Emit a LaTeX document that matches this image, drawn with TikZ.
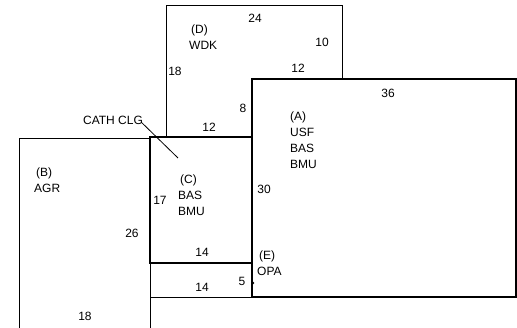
\documentclass[tikz,border=0pt]{standalone}
\usepackage{fontspec}
\setmainfont{Liberation Sans}
\begin{document}
\begin{tikzpicture}[x=1pt,y=-1pt,
  thinln/.style={line width=1pt, line cap=square},
  thickln/.style={line width=2.6pt, line cap=square},
  lbl/.style={inner sep=0pt, font=\fontsize{12}{16}\selectfont},
  room/.style={lbl, align=left, anchor=north west}]
\useasboundingbox (0,0) rectangle (517,328);
% corner coordinates
\coordinate (Dtl) at (166,6);
\coordinate (Dtr) at (342,6);
\coordinate (Dbl) at (166,137);
\coordinate (Dbr) at (342,79);
\coordinate (Atl) at (252,79);
\coordinate (Abr) at (516,297);
\coordinate (Ctl) at (150,137);
\coordinate (Cbr) at (252,263);
\coordinate (Btop) at (19,139);
\coordinate (Bbl) at (19,328);
\coordinate (Bbr) at (150,328);
\coordinate (Etl) at (150,263);
\coordinate (Ebr) at (252,298);
% D (thin)
\draw[thinln] (Dbl) -- (Dtl) -- (Dtr) -- (Dbr);
% B (thin)
\draw[thinln] (Bbl) -- (Btop) -- (Ctl |- Btop);
\draw[thinln] (Etl) -- (Bbr);
% lower strip (thin)
\draw[thinln] (Ebr -| Etl) -- (Ebr) -- (Ebr |- Abr);
% C (thick)
\draw[thickln] (Ctl) rectangle (Cbr);
% A (thick)
\draw[thickln] (Atl) rectangle (Abr);
% E mark
\fill (253,283) circle (1.4pt);
% room labels
\node[room] (A) at (290,112) {(A)\\USF\\BAS\\BMU};
\node[room] (B) at (34,168) {\,(B)\\AGR};
\node[room] (C) at (178,175) {\,(C)\\BAS\\BMU};
\node[room] (D) at (189,25) {\,(D)\\WDK};
\node[room] (E) at (257,251) {\,(E)\\OPA};
% dimensions
\node[lbl] (n24) at (255,18) {24};
\node[lbl] (n10) at (322,42) {10};
\node[lbl] (n18a) at (175,71) {18};
\node[lbl] (n12a) at (298,68) {12};
\node[lbl] (n8) at (243,108) {8};
\node[lbl] (n12b) at (209,127) {12};
\node[lbl] (n36) at (388,93) {36};
\node[lbl] (n17) at (160,200) {17};
\node[lbl] (n26) at (132,233) {26};
\node[lbl] (n14a) at (202,252) {14};
\node[lbl] (n14b) at (202,287) {14};
\node[lbl] (n5) at (242,281) {5};
\node[lbl] (n18b) at (85,316) {18};
\node[lbl] (n30) at (264,189) {30};
% CATH CLG
\node[lbl] (cath) at (113,120) {CATH CLG};
\coordinate (cathend) at (178,158);
\draw[line width=0.8pt] (cath.east) ++(-2,2) -- (cathend);
\end{tikzpicture}
\end{document}
